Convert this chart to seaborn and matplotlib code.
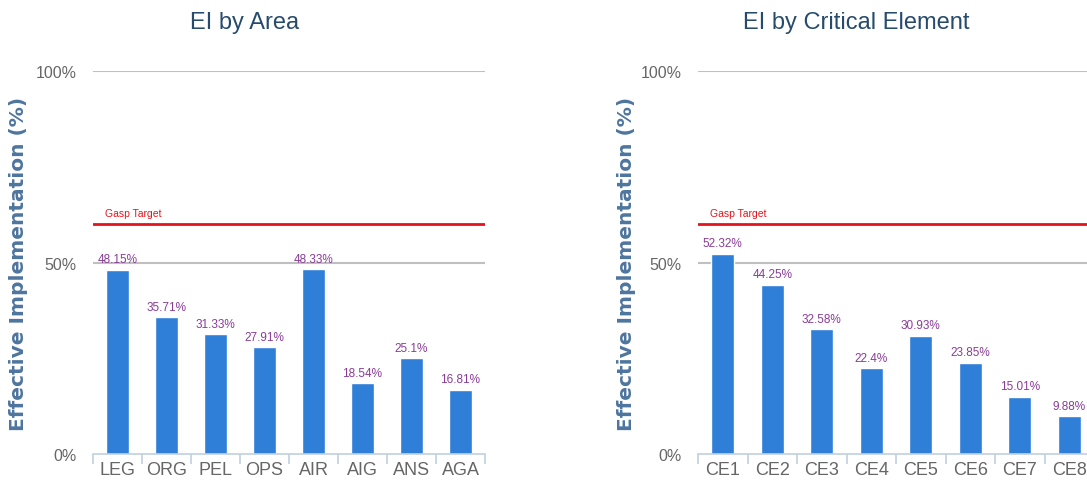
import matplotlib
matplotlib.use("Agg")
import matplotlib.pyplot as plt
from matplotlib import font_manager
import numpy as np
import pandas as pd
import seaborn as sns

# data
area_labels = ["LEG", "ORG", "PEL", "OPS", "AIR", "AIG", "ANS", "AGA"]
area_values = [48.15, 35.71, 31.33, 27.91, 48.33, 18.54, 25.1, 16.81]
ce_labels = ["CE1", "CE2", "CE3", "CE4", "CE5", "CE6", "CE7", "CE8"]
ce_values = [52.32, 44.25, 32.58, 22.4, 30.93, 23.85, 15.01, 9.88]
gasp_target = 60
y_ticks = [0, 50, 100]

BAR = "#2f7ed8"
LABEL = "#8a3b97"
RED = "#e3141b"
TITLE = "#274b6d"
YLAB = "#4d759e"
TICK = "#666666"

sns.set_theme(style="white")
installed = {f.name for f in font_manager.fontManager.ttflist}
narrow = "Liberation Sans Narrow" if "Liberation Sans Narrow" in installed else "Liberation Sans"
plt.rcParams["font.family"] = [narrow, "DejaVu Sans"]


def draw_panel(fig, rect, cats, vals, title, title_x, ylab_x):
    ax = fig.add_axes(rect)
    df = pd.DataFrame({"cat": cats, "val": vals})
    sns.barplot(data=df, x="cat", y="val", color=BAR, saturation=1,
                width=0.47, ax=ax)
    ax.set_xlim(-0.5, len(cats) - 0.5)
    ax.set_ylim(0, 100)

    # gridlines at 50 / 100, axis line at 0
    for t in y_ticks[1:]:
        ax.axhline(t, color="#c0c0c0", lw=1.5, zorder=0)
    ax.axhline(gasp_target, color=RED, lw=2, zorder=3)
    ax.text(0.03, gasp_target + 1.5, "Gasp Target", color=RED, fontsize=7.5,
            transform=ax.get_yaxis_transform(), ha="left", va="bottom")

    for s in ["top", "right", "left"]:
        ax.spines[s].set_visible(False)
    ax.spines["bottom"].set_color("#c0d0e0")
    ax.spines["bottom"].set_linewidth(1.2)

    ax.set_yticks(y_ticks)
    ax.set_yticklabels([f"{t}%" for t in y_ticks], color=TICK, fontsize=11.5)
    ax.tick_params(axis="y", length=0, pad=12)
    ax.set_xticks(range(len(cats)))
    ax.set_xticklabels(cats, color=TICK, fontsize=13)
    ax.set_xticks(np.arange(-0.5, len(cats)), minor=True)
    ax.tick_params(axis="x", which="major", length=0, pad=5)
    ax.tick_params(axis="x", which="minor", length=7, color="#c0d0e0",
                   width=1.2, bottom=True)
    ax.set_xlabel("")
    ax.set_ylabel("")

    ax.bar_label(ax.containers[0], labels=[f"{v:g}%" for v in vals],
                 color=LABEL, fontsize=8.5, padding=3)

    fig.text(title_x, 0.952, title, color=TITLE, fontsize=17,
             ha="center", va="center")
    fig.text(ylab_x, rect[1] + rect[3] * 0.5, "Effective Implementation (%)",
             color=YLAB, fontsize=14.5, fontweight="bold", rotation=90,
             ha="center", va="center", family=["DejaVu Sans"])
    return ax


fig = plt.figure(figsize=(10.87, 4.89), dpi=100)
bottom = 1 - 455 / 489
height = 383 / 489
draw_panel(fig, [93 / 1087, bottom, 392 / 1087, height], area_labels,
           area_values, "EI by Area", 245 / 1087, 19 / 1087)
draw_panel(fig, [698 / 1087, bottom, 396 / 1087, height], ce_labels,
           ce_values, "EI by Critical Element", 856 / 1087, 626 / 1087)

fig.savefig("out.png", dpi=100, facecolor="white")
